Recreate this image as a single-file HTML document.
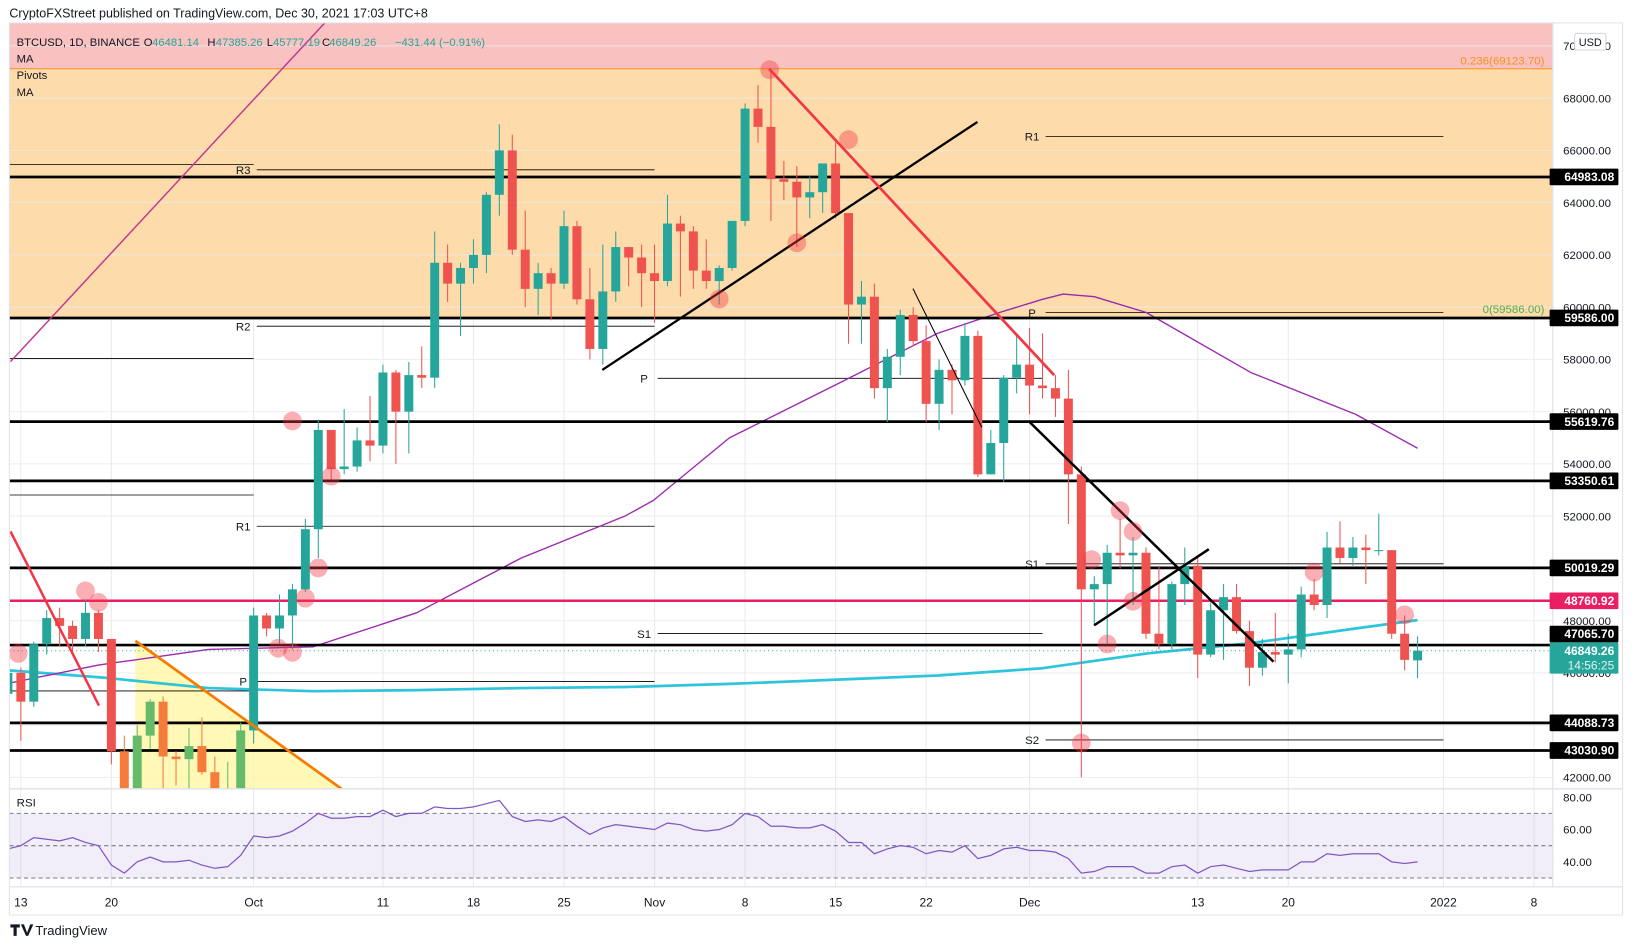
<!DOCTYPE html>
<html><head><meta charset="utf-8"><style>
html,body{margin:0;padding:0;background:#fff;}
svg{display:block;font-family:"Liberation Sans",sans-serif;}
</style></head><body>
<svg id="chart" width="1633" height="950" viewBox="0 0 1567 911.6" xmlns="http://www.w3.org/2000/svg">
<defs><clipPath id="mainClip"><rect x="9" y="22" width="1481" height="735"/></clipPath>
<clipPath id="rsiClip"><rect x="9" y="757" width="1481" height="94"/></clipPath></defs>
<rect x="0" y="0" width="1567" height="912" fill="#fff"/>
<text x="9" y="17" font-size="12" fill="#131722">CryptoFXStreet published on TradingView.com, Dec 30, 2021 17:03 UTC+8</text>
<g id="main" clip-path="url(#mainClip)"></g>
<g id="rsi" clip-path="url(#rsiClip)"></g>
<g id="axes"></g>
</svg>
<script>
// ---- data ----
const startDay = -1; // Sep 12 2021, day 0 = Sep 13
const opens  = [45.2,46.0,44.9,47.1,48.1,47.8,47.3,48.3,47.3,43.0,40.7,43.6,44.9,42.8,42.7,43.2,42.2,41.0,41.5,
 43.8,48.2,47.7,48.2,49.2,51.5,55.3,53.8,53.9,54.9,54.7,57.5,56.0,57.4,57.3,61.7,60.9,61.5,62.0,64.3,66.0,62.2,60.7,61.3,60.9,63.1,60.3,58.4,60.6,62.3,61.9,
 61.3,61.0,63.2,62.9,61.4,61.0,61.5,63.3,67.6,66.9,64.9,64.8,64.2,64.4,65.5,63.6,60.1,60.4,56.9,58.1,59.7,58.7,56.3,57.6,57.2,58.9,53.6,54.8,57.3,57.8,
 57.0,56.9,56.5,53.6,49.2,49.4,50.6,50.5,50.6,47.5,47.1,49.4,50.1,46.7,48.4,48.9,47.6,46.2,46.8,46.7,46.9,49.0,48.6,50.8,50.4,50.8,50.7,50.7,47.5,46.48];
const closes = [46.0,44.9,47.1,48.1,47.8,47.3,48.3,47.3,43.0,40.7,43.6,44.9,42.8,42.7,43.2,42.2,41.0,41.5,43.8,
 48.2,47.7,48.2,49.2,51.5,55.3,53.8,53.9,54.9,54.7,57.5,56.0,57.4,57.3,61.7,60.9,61.5,62.0,64.3,66.0,62.2,60.7,61.3,60.9,63.1,60.3,58.4,60.6,62.3,61.9,61.3,
 61.0,63.2,62.9,61.4,61.0,61.5,63.3,67.6,66.9,64.9,64.8,64.2,64.4,65.5,63.6,60.1,60.4,56.9,58.1,59.7,58.7,56.3,57.6,57.2,58.9,53.6,54.8,57.3,57.8,57.0,
 56.9,56.5,53.6,49.2,49.4,50.6,50.5,50.6,47.5,47.1,49.4,50.1,46.7,48.4,48.9,47.6,46.2,46.8,46.7,46.9,49.0,48.6,50.8,50.4,50.8,50.7,50.7,47.5,46.5,46.84926];
const highs  = [46.4,46.2,47.2,48.4,48.5,48.0,48.8,48.4,47.3,43.6,44.0,45.0,45.1,43.0,43.9,44.3,42.8,42.6,44.1,
 48.5,48.3,49.0,49.4,51.9,55.7,55.3,56.1,55.4,56.6,57.8,57.6,57.9,58.5,62.9,62.4,61.7,62.6,64.4,67.0,66.6,63.7,61.7,61.5,63.7,63.3,61.5,62.4,62.9,62.3,62.4,
 62.4,64.3,63.5,63.1,62.6,61.6,63.3,67.8,68.5,69.0,65.6,65.4,65.0,65.5,66.3,63.6,61.0,60.9,58.4,59.9,60.0,59.3,58.0,57.8,59.4,59.1,55.3,57.4,58.9,59.2,
 59.0,57.4,57.6,53.9,49.7,50.9,51.9,51.2,50.8,50.1,49.5,50.8,50.4,48.7,49.4,49.4,48.0,47.3,48.3,47.5,49.3,49.6,51.4,51.8,51.2,51.3,52.1,50.7,48.2,47.4];
const lows   = [44.8,43.4,44.7,46.7,47.0,46.8,47.0,46.8,42.5,39.6,40.6,43.1,40.8,41.7,40.8,42.1,40.9,40.8,41.4,
 43.3,47.4,47.1,46.9,49.1,50.4,53.4,53.6,53.7,54.1,54.4,54.0,54.4,56.9,56.9,60.2,58.9,60.9,61.3,63.5,62.0,60.0,59.7,59.5,60.7,60.1,58.0,57.8,60.2,60.8,60.0,
 59.4,60.8,60.4,60.7,60.7,60.1,61.4,63.1,66.3,63.3,64.1,62.3,63.4,63.6,63.4,58.6,58.6,56.5,55.6,57.4,58.5,55.6,55.3,55.9,57.0,53.5,53.6,53.3,56.7,55.9,
 56.5,55.8,51.7,42.0,47.8,47.1,50.0,48.6,47.3,46.9,46.9,48.6,45.8,46.6,46.5,47.5,45.5,45.9,46.4,45.6,46.6,48.4,48.1,50.2,50.1,49.4,50.5,47.3,46.1,45.8];
const rsiValues = [48,50,55,54,53,55,52,50,38,33,40,43,40,40,41,38,36,37,44,
 56,55,56,59,64,70,67,67,68,68,72,68,70,70,74,73,73,74,76,78,68,65,66,65,68,62,57,61,63,62,61,
 60,64,63,60,59,60,63,70,68,62,62,61,61,63,59,52,52,45,48,50,49,45,47,46,50,42,44,48,49,47,
 47,46,42,33,34,37,37,37,33,33,37,38,33,37,38,36,34,35,35,35,40,40,45,44,45,45,45,40,39,40];
const ma200Days   = [-1,6.4,14.5,22.6,30.6,38.7,46.7,54.8,62.9,70.9,79,87,95.1,103.2,108];
const ma200Prices = [46.10,45.82,45.42,45.30,45.34,45.42,45.46,45.58,45.74,45.90,46.18,46.74,47.14,47.70,48.02];
const ma50Days    = [-1,6,14.5,22.6,30.6,38.7,46.7,48.9,54.8,62.9,70.9,75.7,79,80.6,83,87,95.1,103.2,108];
const ma50Prices  = [45.6,46.3,46.9,47.0,48.3,50.4,52.0,52.6,55.0,57.0,59.0,59.8,60.3,60.5,60.4,59.8,57.5,55.9,54.6];
const priceTicks = [42000,44000,46000,48000,50000,52000,54000,56000,58000,60000,62000,64000,66000,68000,70000];
const rsiTicks = [80,60,40];
const timeTickDays = [0,7,18,28,35,42,49,56,63,70,78,91,98,110,117];
const timeTickLabels = ["13","20","Oct","11","18","25","Nov","8","15","22","Dec","13","20","2022","8"];
const levelPrices = [64983.08,59586.00,55619.76,53350.61,50019.29,47065.70,44088.73,43030.90];
const pinkLevel = 48760.92;
const lastPrice = 46849.26;
const fibTop = 69123.70, fibZero = 59586.00;
// pivots
const pivotStart = [-1,-1,-1,-1,18,18,18,18,49,49,79,79,79,79];
const pivotEnd   = [18,18,18,18,49,49,49,49,79,79,110,110,110,110];
const pivotLabel = ["","","","","R3","R2","R1","P","P","S1","R1","P","S1","S2"];
const pivotPrice = [65455,58036,52810,45311,65256,59273,51614,45670,57278,47505,66532,59791,50177,43436];
// annotation circles
const circleDays   = [-0.2,5,6,19.9,21,22,23,21,24,54,57.9,60,64,82,82.8,84,85,86,86,100,107];
const circlePrices = [46747,49140,48700,46946,46787,48861,50018,55642,53528,60310,69085,62464,66413,43316,50337,47106,52212,51414,48741,49858,48223];

// ---- axes ----
const X = d => 20 + d*12.41;
const Y = p => 746 - (p-42000)*0.02507;
const RY = r => 765 + (80-r)*1.55;
const NS="http://www.w3.org/2000/svg";
function mk(parent,tag,attrs){const e=document.createElementNS(NS,tag);for(const k in attrs)e.setAttribute(k,attrs[k]);parent.appendChild(e);return e;}
const svg=document.getElementById('chart');
const main=document.getElementById('main'), rsi=document.getElementById('rsi'), axes=document.getElementById('axes');

let z=mk(main,'rect',{x:9,y:22,width:1481,height:Y(fibTop)-22,fill:'#f9c1c0'});


z=mk(main,'rect',{x:9,y:Y(fibTop),width:1481,height:Y(fibZero)-Y(fibTop),fill:'#fddbaa'});


priceTicks.forEach(p=>{const g=mk(main,'line',{x1:9,x2:1490,y1:Y(p),y2:Y(p),stroke:'#e9eaed','stroke-width':1,'stroke-opacity':0.8});

});
timeTickDays.forEach(d=>{const g=mk(svg,'line',{x1:X(d),x2:X(d),y1:22,y2:851,stroke:'#e9eaed','stroke-width':1});
svg.insertBefore(g,main);

});
let l=mk(main,'line',{x1:9,x2:1490,y1:Y(fibTop),y2:Y(fibTop),stroke:'#f7931a','stroke-width':1});


let t=mk(main,'text',{x:1482,y:Y(fibTop)-4,'font-size':11,fill:'#f7931a','text-anchor':'end'});t.textContent='0.236(69123.70)';


t=mk(main,'text',{x:1482,y:Y(fibZero)-5,'font-size':11,fill:'#4caf50','text-anchor':'end'});t.textContent='0(59586.00)';


let tri=mk(main,'polygon',{points:`${X(8.86)},${Y(47226)} ${X(8.86)},757 ${X(24.8)},757`,fill:'#fff59d','fill-opacity':0.75});


pivotPrice.forEach((p,i)=>{const pl=mk(main,'line',{x1:X(pivotStart[i])+(pivotLabel[i]?3:0),x2:X(pivotEnd[i]),y1:Y(p),y2:Y(p),stroke:'#000','stroke-width':0.8});


if(pivotLabel[i]){const pt=mk(main,'text',{x:X(pivotStart[i])-10,y:Y(p)+4,'font-size':11,fill:'#131722','text-anchor':'middle'});pt.textContent=pivotLabel[i];

}});
function poly(parent,days,vals,color,w,name){const pts=days.map((d,i)=>X(d)+','+Y(vals[i]*1000)).join(' ');
const e=mk(parent,'polyline',{points:pts,fill:'none',stroke:color,'stroke-width':w,'stroke-linejoin':'round'});

}
poly(main,ma200Days,ma200Prices,'#2ec4dc',2.6,'ma-200-line');
poly(main,ma50Days,ma50Prices,'#9c27b0',1.3,'ma-50-line');
levelPrices.forEach(p=>{const e=mk(main,'line',{x1:9,x2:1490,y1:Y(p),y2:Y(p),stroke:'#000','stroke-width':2.6});

});
l=mk(main,'line',{x1:9,x2:1490,y1:Y(pinkLevel),y2:Y(pinkLevel),stroke:'#e91e63','stroke-width':2.4});


l=mk(main,'line',{x1:9,x2:1490,y1:Y(lastPrice),y2:Y(lastPrice),stroke:'#26a69a','stroke-width':1,'stroke-dasharray':'1,3'});


closes.forEach((c,i)=>{const d=startDay+i, x=X(d), o=opens[i]*1000, cl=c*1000, h=highs[i]*1000, lo=lows[i]*1000;
const up=cl>=o; let col=up?'#26a69a':'#ef5350';
if(d>=8&&d<=17) col=up?'#66bb6a':'#f57c3a';
const w=mk(main,'line',{x1:x,x2:x,y1:Y(h),y2:Y(lo),stroke:col,'stroke-width':1});


const top=Y(Math.max(o,cl)), bh=Math.max(1,Math.abs(Y(o)-Y(cl)));
const b=mk(main,'rect',{x:x-4.3,y:top,width:8.6,height:bh,fill:col});

});
const tl=[[-0.8,57916,25.6,72000,'#c2378f',1.4,'purple-trendline'],[-0.8,51414,6.04,44752,'#f23645',2.4,'red-trendline-left'],
[8.86,47226,24.8,41561,'#f57c00',2.6,'orange-trendline'],[44.96,57597,73.97,67091,'#000',2.2,'black-uptrend-line'],
[57.86,69125,79.9,57397,'#f23645',2.6,'red-downtrend-line'],[68.98,60708,74.3,55403,'#000',1,'thin-black-line'],
[78.0,55603,96.86,46428,'#000',2.4,'black-downtrend-line'],[83.0,47824,91.86,50736,'#000',2.4,'black-short-uptrend']];
tl.forEach(a=>{const e=mk(main,'line',{x1:X(a[0]),y1:Y(a[1]),x2:X(a[2]),y2:Y(a[3]),stroke:a[4],'stroke-width':a[5]});

});
circleDays.forEach((d,i)=>{const e=mk(main,'circle',{cx:X(d),cy:Y(circlePrices[i]),r:9,fill:'#f23645','fill-opacity':0.4});

});
[['BTCUSD, 1D, BINANCE',16,44],['MA',16,60],['Pivots',16,76],['MA',16,92]].forEach((a,i)=>{const e=mk(axes,'text',{x:a[1],y:a[2],'font-size':10.8,fill:'#131722'});e.textContent=a[0];

});
[['O',138],['H',199],['L',256],['C',309]].forEach(a=>{const e=mk(axes,'text',{x:a[1],y:44,'font-size':10.8,fill:'#131722'});e.textContent=a[0];

});
[['46481.14',146],['47385.26',207],['45777.19',262],['46849.26',316],['−431.44 (−0.91%)',379]].forEach(a=>{const e=mk(axes,'text',{x:a[1],y:44,'font-size':10.8,fill:'#26a69a'});e.textContent=a[0];

});

let band=mk(rsi,'rect',{x:9,y:RY(70),width:1481,height:RY(30)-RY(70),fill:'#9575cd','fill-opacity':0.12});


[70,50,30].forEach(v=>{const e=mk(rsi,'line',{x1:9,x2:1490,y1:RY(v),y2:RY(v),stroke:'#787b86','stroke-width':1,'stroke-dasharray':'4,3'});

});
const rp=rsiValues.map((r,i)=>X(startDay+i)+','+RY(r)).join(' ');
let rl=mk(rsi,'polyline',{points:rp,fill:'none',stroke:'#7e57c2','stroke-width':1.2});


t=mk(axes,'text',{x:16,y:774,'font-size':11,fill:'#131722'});t.textContent='RSI';



[[9,22,1481,829],[1490,22,67,829]].forEach(a=>{const e=mk(axes,'rect',{x:a[0],y:a[1],width:a[2],height:a[3],fill:'none',stroke:'#e0e3eb','stroke-width':1});

});
l=mk(axes,'line',{x1:9,x2:1557,y1:757,y2:757,stroke:'#e0e3eb','stroke-width':1.5});


l=mk(axes,'rect',{x:9,y:851,width:1548,height:27,fill:'none',stroke:'#e0e3eb','stroke-width':1});


priceTicks.forEach(p=>{const e=mk(axes,'text',{x:1500,y:Y(p)+4,'font-size':11,fill:'#131722'});e.textContent=p.toFixed(2);

});
rsiTicks.forEach(r=>{const e=mk(axes,'text',{x:1500,y:RY(r)+4,'font-size':11,fill:'#131722'});e.textContent=r.toFixed(2);

});
timeTickDays.forEach((d,i)=>{const e=mk(axes,'text',{x:X(d),y:870,'font-size':11.5,fill:'#131722','text-anchor':'middle'});e.textContent=timeTickLabels[i];

});
function tag(p,bg,txt,name,h,shift){const y=Y(p)-(shift||0);const r=mk(axes,'rect',{x:1487,y:y-8,width:66,height:h||16,fill:bg,rx:1});


const tx=mk(axes,'text',{x:1549,y:y+4,'font-size':11.5,'font-weight':'bold',fill:'#fff','text-anchor':'end'});tx.textContent=txt;

}
const lastY=Y(lastPrice);
levelPrices.forEach(p=>{const dy=Y(p);let s=0;if(dy>lastY-24&&dy<lastY+24)s=dy-(lastY-8)+8;tag(p,'#000',p.toFixed(2),'level-price-label',16,s);});
tag(pinkLevel,'#e91e63',pinkLevel.toFixed(2),'pink-level-label');
tag(lastPrice,'#26a69a',lastPrice.toFixed(2),'last-price-label',30);
t=mk(axes,'text',{x:1549,y:lastY+18,'font-size':11.5,fill:'#e0f2f1','text-anchor':'end'});t.textContent='14:56:25';


let ub=mk(axes,'rect',{x:1511,y:32,width:30,height:16,fill:'#fff',stroke:'#d1d4dc',rx:2});


t=mk(axes,'text',{x:1526,y:44,'font-size':10.5,fill:'#131722','text-anchor':'middle'});t.textContent='USD';


let lg=mk(axes,'g',{});


mk(lg,'path',{d:'M10 887h9v3h-3v8h-3v-8h-3z M20 887h3l3 8 3-8h3l-5 11h-2z',fill:'#131722'});
t=mk(lg,'text',{x:34,y:897,'font-size':12.5,fill:'#131722'});t.textContent='TradingView';
</script>
</body></html>
